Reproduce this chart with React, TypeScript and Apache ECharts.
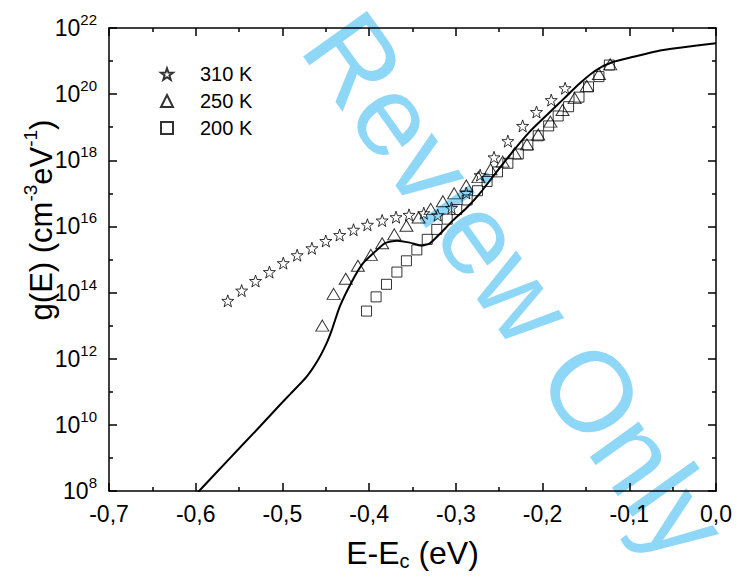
import React, { useEffect, useRef } from "react";
import * as echarts from "echarts";

// ---------- data (x = E - Ec in eV, y = log10 g(E) in cm^-3 eV^-1) ----------
const legendNames = ["310 K", "250 K", "200 K"];
const yTickExponents = [8, 10, 12, 14, 16, 18, 20, 22];

const e310 = [-0.563, -0.547, -0.531, -0.515, -0.499, -0.483, -0.466, -0.45, -0.434, -0.418, -0.402, -0.385, -0.369, -0.354, -0.337, -0.321, -0.305, -0.288, -0.272, -0.256, -0.24, -0.223, -0.207, -0.19, -0.174];
const logG310 = [13.75, 14.06, 14.35, 14.62, 14.89, 15.13, 15.34, 15.56, 15.74, 15.9, 16.05, 16.18, 16.28, 16.35, 16.4, 16.34, 16.56, 17.01, 17.55, 18.09, 18.58, 19.04, 19.46, 19.82, 20.18];

const e250 = [-0.454, -0.441, -0.427, -0.413, -0.398, -0.385, -0.371, -0.357, -0.343, -0.329, -0.315, -0.302, -0.288, -0.274, -0.26, -0.246, -0.232, -0.218, -0.205, -0.191, -0.177, -0.163, -0.149, -0.135, -0.122];
const logG250 = [13.0, 13.96, 14.42, 14.81, 15.14, 15.49, 15.76, 16.02, 16.27, 16.53, 16.76, 17.0, 17.24, 17.49, 17.73, 17.96, 18.21, 18.48, 18.78, 19.17, 19.52, 19.88, 20.25, 20.61, 20.9];

const e200 = [-0.403, -0.392, -0.38, -0.368, -0.357, -0.345, -0.333, -0.322, -0.31, -0.299, -0.287, -0.275, -0.264, -0.252, -0.24, -0.228, -0.217, -0.205, -0.193, -0.182, -0.17, -0.158, -0.147, -0.135, -0.123];
const logG200 = [13.44, 13.87, 14.25, 14.62, 14.96, 15.29, 15.61, 15.91, 16.22, 16.51, 16.8, 17.08, 17.36, 17.65, 17.91, 18.19, 18.46, 18.74, 19.04, 19.34, 19.62, 19.91, 20.22, 20.53, 20.88];

const eFit = [-0.605, -0.595, -0.561, -0.526, -0.503, -0.491, -0.472, -0.459, -0.449, -0.443, -0.434, -0.42, -0.407, -0.393, -0.382, -0.368, -0.353, -0.34, -0.33, -0.318, -0.303, -0.288, -0.272, -0.253, -0.234, -0.215, -0.195, -0.176, -0.157, -0.138, -0.119, -0.095, -0.068, -0.042, 0.0];
const logGFit = [7.75, 8.03, 8.98, 9.95, 10.6, 10.93, 11.46, 11.96, 12.47, 12.87, 13.57, 14.33, 14.89, 15.24, 15.49, 15.57, 15.51, 15.42, 15.49, 15.79, 16.19, 16.55, 17.01, 17.65, 18.28, 18.86, 19.37, 19.85, 20.33, 20.73, 20.97, 21.13, 21.3, 21.4, 21.54];

// ---------- styling ----------
const FONT = "'Liberation Sans', Arial, sans-serif";
const STAR =
  "path://M50,0 L61.76,33.82 L97.55,34.55 L69.02,56.18 L79.39,90.45 L50,70 L20.61,90.45 L30.98,56.18 L2.45,34.55 L38.24,33.82 Z";

const pairs = (xs: number[], ys: number[]) => xs.map((x, i) => [x, ys[i]]);

export default function App() {
  const ref = useRef<HTMLDivElement>(null);

  useEffect(() => {
    document.body.style.margin = "0";
    const chart = echarts.init(ref.current!, null, { renderer: "svg" });

    const lineStyle = { color: "#000", width: 1.5 };
    const xBase = {
      type: "value",
      min: -0.7,
      max: 0,
      interval: 0.1,
      axisLine: { show: true, onZero: false, lineStyle },
      axisTick: { show: true, inside: true, length: 8, lineStyle },
      minorTick: { show: true, splitNumber: 2, length: 4, lineStyle },
      splitLine: { show: false },
      minorSplitLine: { show: false },
    };
    const yBase = {
      type: "value",
      min: yTickExponents[0],
      max: yTickExponents[yTickExponents.length - 1],
      interval: 2,
      axisLine: { show: true, onZero: false, lineStyle },
      axisTick: { show: true, inside: true, length: 8, lineStyle },
      minorTick: { show: true, splitNumber: 2, length: 4, lineStyle },
      splitLine: { show: false },
      minorSplitLine: { show: false },
    };
    const hollow = { color: "rgba(0,0,0,0)", borderColor: "#000", borderWidth: 1 };

    chart.setOption({
      animation: false,
      backgroundColor: "#fff",
      grid: { left: 109, top: 28, right: 23, bottom: 89, containLabel: false },
      xAxis: [
        {
          ...xBase,
          position: "bottom",
          axisLabel: {
            color: "#000",
            fontSize: 23,
            fontFamily: FONT,
            margin: 11,
            formatter: (v: number) => v.toFixed(1).replace(".", ","),
          },
          name: "{m|E-E}{sub|c}{m| (eV)}",
          nameLocation: "middle",
          nameGap: 44,
          nameTextStyle: {
            rich: {
              m: { fontSize: 32, fontFamily: FONT, color: "#000", lineHeight: 36 },
              sub: { fontSize: 20, fontFamily: FONT, color: "#000", verticalAlign: "bottom", lineHeight: 18 },
            },
          },
        },
        { ...xBase, position: "top", axisLabel: { show: false } },
      ],
      yAxis: [
        {
          ...yBase,
          position: "left",
          axisLabel: {
            margin: 12,
            formatter: (v: number) => `{b|10}{s|${v}}`,
            rich: {
              b: { fontSize: 23, fontFamily: FONT, color: "#000", lineHeight: 32 },
              s: { fontSize: 15, fontFamily: FONT, color: "#000", verticalAlign: "top", lineHeight: 16 },
            },
          },
        },
        { ...yBase, position: "right", axisLabel: { show: false } },
      ],
      legend: {
        orient: "vertical",
        left: 155,
        top: 59,
        itemGap: 7,
        itemWidth: 12,
        itemHeight: 12,
        textStyle: { fontSize: 20, fontFamily: FONT, color: "#000", padding: [0, 0, 0, 22] },
        data: [
          { name: legendNames[0], icon: STAR },
          { name: legendNames[1], icon: "triangle" },
          { name: legendNames[2], icon: "rect" },
        ],
      },
      graphic: [
        {
          type: "text",
          x: 516,
          y: 286,
          rotation: -0.95,
          z: -1,
          silent: true,
          style: {
            text: "Review Only",
            fontSize: 114,
            fontFamily: FONT,
            fill: "#8fd7f7",
            align: "center",
            verticalAlign: "middle",
          },
        },
        {
          type: "text",
          x: 41,
          y: 220,
          rotation: Math.PI / 2,
          style: {
            text: "{m|g(E) (cm}{s|-3}{m|eV}{s|-1}{m|)}",
            align: "center",
            verticalAlign: "middle",
            rich: {
              m: { fontSize: 31, fontFamily: FONT, fill: "#000", lineHeight: 40 },
              s: { fontSize: 19, fontFamily: FONT, fill: "#000", verticalAlign: "top", lineHeight: 20 },
            },
          },
        },
      ],
      series: [
        {
          name: "fit",
          type: "line",
          data: pairs(eFit, logGFit),
          showSymbol: false,
          smooth: 0.2,
          lineStyle: { color: "#000", width: 2 },
          clip: true,
          z: 1,
        },
        {
          name: legendNames[0],
          type: "scatter",
          data: pairs(e310, logG310),
          symbol: STAR,
          symbolSize: 12,
          itemStyle: hollow,
          z: 3,
        },
        {
          name: legendNames[1],
          type: "scatter",
          data: pairs(e250, logG250),
          symbol: "triangle",
          symbolSize: [13, 11],
          itemStyle: hollow,
          z: 3,
        },
        {
          name: legendNames[2],
          type: "scatter",
          data: pairs(e200, logG200),
          symbol: "rect",
          symbolSize: 10,
          itemStyle: hollow,
          z: 3,
        },
      ],
    });

    return () => chart.dispose();
  }, []);

  return <div ref={ref} style={{ width: 739, height: 580 }} />;
}
